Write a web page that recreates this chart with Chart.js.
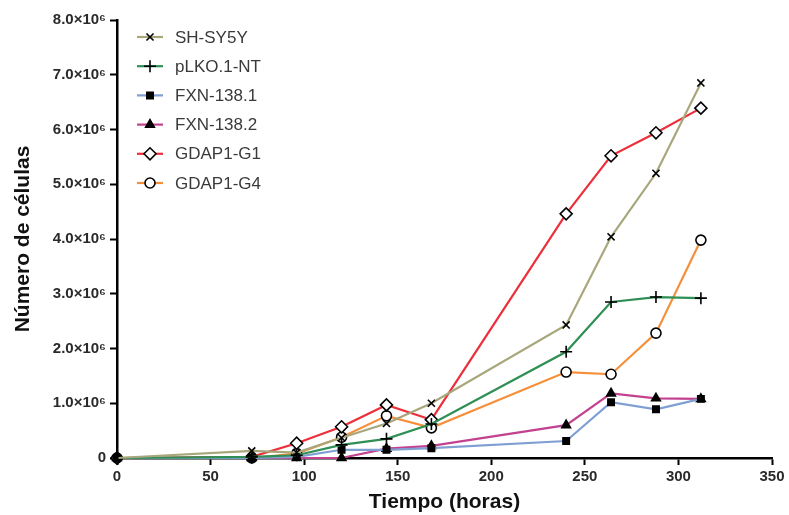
<!DOCTYPE html>
<html>
<head>
<meta charset="utf-8">
<script src="https://cdn.jsdelivr.net/npm/chart.js@4/dist/chart.umd.min.js"></script>
<style>
  html, body { margin: 0; padding: 0; background: #fff; }
  #wrap { width: 789px; height: 515px; }
</style>
</head>
<body>
<div id="wrap"><canvas id="grafica" width="789" height="515"></canvas></div>
<script>
// horas de cultivo
const tiempos = [0, 72, 96, 120, 144, 168, 240, 264, 288, 312];
const nombres = ["SH-SY5Y", "pLKO.1-NT", "FXN-138.1", "FXN-138.2", "GDAP1-G1", "GDAP1-G4"];

// número de células (x10^6)
const shsy5y  = [0, 0.13, 0.10, 0.37, 0.63, 1.00, 2.43, 4.04, 5.20, 6.85];
const plko    = [0, 0.02, 0.05, 0.24, 0.35, 0.62, 1.94, 2.85, 2.94, 2.92];
const fxn1    = [0, 0.00, 0.02, 0.15, 0.15, 0.18, 0.31, 1.02, 0.89, 1.08];
const fxn2    = [0, 0.00, 0.00, 0.00, 0.17, 0.22, 0.60, 1.18, 1.09, 1.08];
const gdapG1  = [0, 0.02, 0.27, 0.57, 0.97, 0.70, 4.46, 5.52, 5.94, 6.39];
const gdapG4  = [0, 0.00, 0.08, 0.38, 0.77, 0.55, 1.57, 1.53, 2.28, 3.98];

const yTicks = [0, 1, 2, 3, 4, 5, 6, 7, 8];

const colores = ["#a8a77c", "#2f8f55", "#7f9fd3", "#c2428f", "#ec2f3a", "#f58f3a"];
const marcas = ["crossRot", "cross", "rect", "triangle", "rectRot", "circle"];
const rellenos = ["#000", "#000", "#000", "#000", "#fff", "#fff"];
const radios = [5, 6, 4.5, 5, 6, 5];
const series = [shsy5y, plko, fxn1, fxn2, gdapG1, gdapG4];

const datasets = series.map((s, i) => ({
  label: nombres[i],
  data: s.map((v, j) => ({ x: tiempos[j], y: v * 1e6 })),
  borderColor: colores[i],
  borderWidth: 2.2,
  pointStyle: marcas[i],
  pointRadius: radios[i],
  pointBackgroundColor: rellenos[i],
  pointBorderColor: "#000",
  pointBorderWidth: 1.6,
  fill: false,
  tension: 0,
  clip: false
}));

// leyenda con línea + marca, como en la figura
const leyenda = {
  id: "leyenda",
  afterDraw(chart) {
    const ctx = chart.ctx;
    ctx.save();
    chart.data.datasets.forEach((d, i) => {
      const y = 37 + i * 29.2;
      ctx.strokeStyle = d.borderColor;
      ctx.lineWidth = 2.2;
      ctx.beginPath();
      ctx.moveTo(137, y);
      ctx.lineTo(163, y);
      ctx.stroke();
      ctx.fillStyle = d.pointBackgroundColor;
      ctx.strokeStyle = "#000";
      ctx.lineWidth = 1.6;
      Chart.helpers.drawPoint(ctx, { pointStyle: d.pointStyle, rotation: 0, radius: d.pointRadius, borderWidth: 1.6 }, 150, y);
      ctx.fillStyle = "#3a3a3a";
      ctx.font = "17px 'Liberation Sans', Arial, sans-serif";
      ctx.textBaseline = "middle";
      ctx.fillText(d.label, 175, y + 1);
    });
    ctx.restore();
  }
};

const fuente = "'Liberation Sans', Arial, sans-serif";

new Chart(document.getElementById("grafica"), {
  type: "line",
  data: { datasets: datasets },
  plugins: [leyenda],
  options: {
    responsive: false,
    animation: false,
    layout: { padding: { top: 20, right: 17, left: 0, bottom: 0 } },
    plugins: { legend: { display: false }, tooltip: { enabled: false } },
    scales: {
      x: {
        type: "linear",
        min: 0, max: 350,
        ticks: { stepSize: 50, color: "#2a2a2a", font: { family: fuente, size: 15, weight: "bold" }, padding: 3 },
        grid: { drawOnChartArea: false, drawTicks: true, tickLength: 7, tickColor: "#000", tickWidth: 2 },
        border: { display: true, color: "#000", width: 2.5 },
        title: { display: true, text: "Tiempo (horas)", color: "#111", font: { family: fuente, size: 21, weight: "bold" }, padding: { top: 3, bottom: 0 } },
        afterFit(scale) { scale.height = 57; }
      },
      y: {
        min: 0, max: 8e6,
        afterBuildTicks(scale) { scale.ticks = yTicks.map(v => ({ value: v * 1e6 })); },
        ticks: {
          color: "#2a2a2a",
          font: { family: fuente, size: 15, weight: "bold" },
          padding: 4,
          callback: v => v === 0 ? "0" : (v / 1e6).toFixed(1) + "×10⁶"
        },
        grid: { drawOnChartArea: false, drawTicks: true, tickLength: 7, tickColor: "#000", tickWidth: 2 },
        border: { display: true, color: "#000", width: 2.5 },
        title: { display: true, text: "Número de células", color: "#111", font: { family: fuente, size: 21, weight: "bold" }, padding: { top: 11, bottom: 0 } },
        afterFit(scale) { scale.width = 117; }
      }
    }
  }
});
</script>
</body>
</html>
